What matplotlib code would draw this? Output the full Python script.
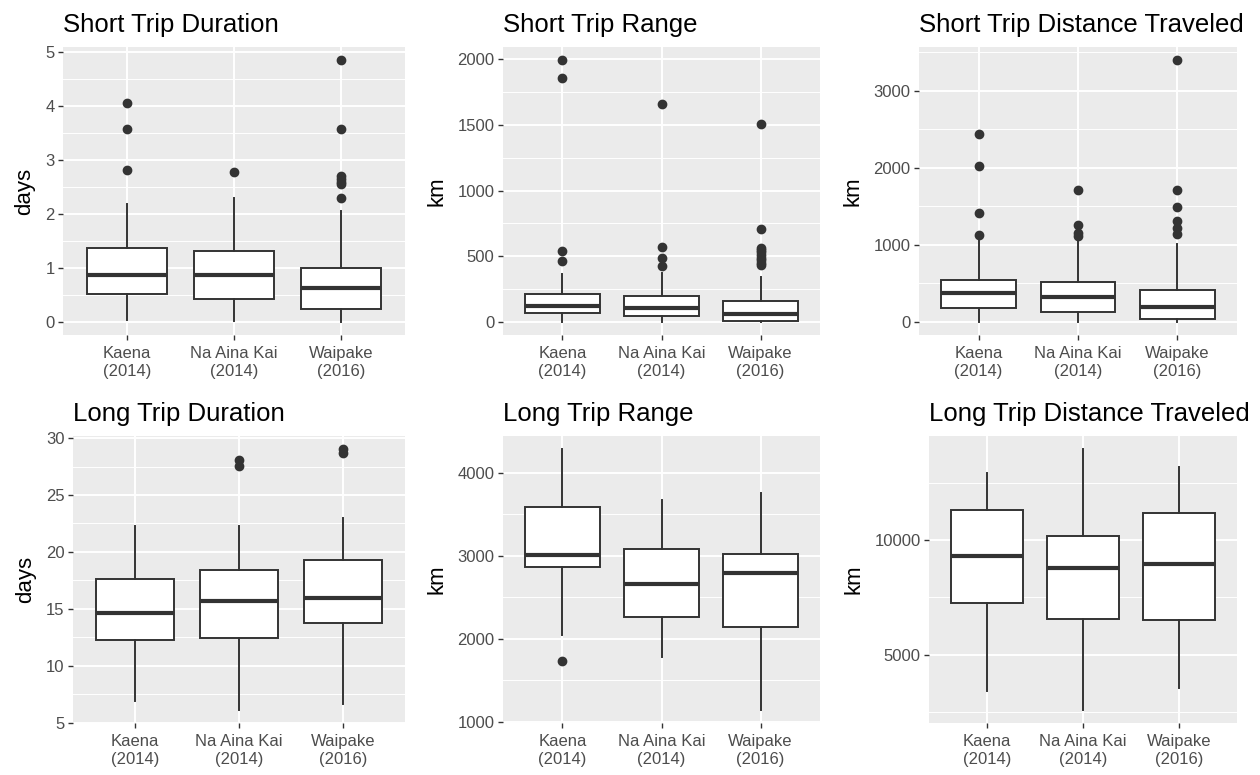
import matplotlib
matplotlib.use("Agg")
import matplotlib.pyplot as plt
from matplotlib.ticker import MultipleLocator

plt.rcParams['font.family'] = ['Liberation Sans', 'DejaVu Sans']

groups = ["Kaena\n(2014)", "Na Aina Kai\n(2014)", "Waipake\n(2016)"]

# Short trip duration (days)
sd_q1 = [0.52, 0.42, 0.24]
sd_med = [0.87, 0.87, 0.62]
sd_q3 = [1.36, 1.32, 1.00]
sd_lo = [0.04, 0.02, 0.0]
sd_hi = [2.18, 2.29, 2.05]
sd_out = [[4.05, 3.58, 2.82], [2.77], [4.85, 3.58, 2.70, 2.65, 2.60, 2.55, 2.29]]

# Short trip range (km)
sr_q1 = [68, 43, 10]
sr_med = [119, 109, 61]
sr_q3 = [213, 195, 157]
sr_lo = [0, 0, 0]
sr_hi = [367, 372, 342]
sr_out = [[1995, 1860, 537, 464], [1662, 570, 489, 428],
          [1507, 711, 563, 545, 530, 510, 490, 470, 450, 435]]

# Short trip distance traveled (km)
sx_q1 = [186, 134, 35]
sx_med = [371, 323, 199]
sx_q3 = [543, 517, 414]
sx_lo = [0, 0, 0]
sx_hi = [1060, 1090, 1005]
sx_out = [[2436, 2017, 1418, 1134], [1707, 1263, 1156, 1121],
          [3397, 1707, 1487, 1306, 1220, 1147]]

# Long trip duration (days)
ld_q1 = [12.24, 12.39, 13.79]
ld_med = [14.64, 15.72, 15.92]
ld_q3 = [17.65, 18.43, 19.28]
ld_lo = [6.9, 6.11, 6.6]
ld_hi = [22.26, 22.26, 22.96]
ld_out = [[], [28.07, 27.58], [29.04, 28.66]]

# Long trip range (km)
lr_q1 = [2868, 2264, 2140]
lr_med = [3012, 2660, 2792]
lr_q3 = [3588, 3088, 3024]
lr_lo = [2040, 1780, 1140]
lr_hi = [4288, 3668, 3752]
lr_out = [[1728], [], []]

# Long trip distance traveled (km)
lx_q1 = [7261, 6565, 6522]
lx_med = [9319, 8783, 8942]
lx_q3 = [11304, 10188, 11203]
lx_lo = [3406, 2580, 3551]
lx_hi = [12942, 13985, 13202]
lx_out = [[], [], []]

titles = ["Short Trip Duration", "Short Trip Range", "Short Trip Distance Traveled",
          "Long Trip Duration", "Long Trip Range", "Long Trip Distance Traveled"]
ylabels = ["days", "km", "km", "days", "km", "km"]
major_steps = [1, 500, 1000, 5, 1000, 5000]

panels = [
    (sd_q1, sd_med, sd_q3, sd_lo, sd_hi, sd_out),
    (sr_q1, sr_med, sr_q3, sr_lo, sr_hi, sr_out),
    (sx_q1, sx_med, sx_q3, sx_lo, sx_hi, sx_out),
    (ld_q1, ld_med, ld_q3, ld_lo, ld_hi, ld_out),
    (lr_q1, lr_med, lr_q3, lr_lo, lr_hi, lr_out),
    (lx_q1, lx_med, lx_q3, lx_lo, lx_hi, lx_out),
]

# panel rectangles in pixels: left, top, right, bottom
W, H = 1260, 775
rects = [(63, 47, 405, 335), (503, 47, 820, 335), (919, 47, 1237, 335),
         (73, 436, 405, 723), (503, 436, 820, 723), (929, 436, 1237, 723)]

fig = plt.figure(figsize=(W / 100, H / 100), dpi=100)

dark = '#333333'
for i, (q1, med, q3, lo, hi, out) in enumerate(panels):
    l, t, r, b = rects[i]
    ax = fig.add_axes([l / W, (H - b) / H, (r - l) / W, (b - t) / H])
    ax.set_facecolor('#EBEBEB')
    for s in ax.spines.values():
        s.set_visible(False)

    stats = []
    for k in range(3):
        stats.append(dict(q1=q1[k], med=med[k], q3=q3[k], whislo=lo[k],
                          whishi=hi[k], fliers=out[k]))
    ax.bxp(stats, positions=[1, 2, 3], widths=0.75, patch_artist=True,
           showcaps=False,
           boxprops=dict(facecolor='white', edgecolor=dark, linewidth=1.4),
           whiskerprops=dict(color=dark, linewidth=1.4),
           medianprops=dict(color=dark, linewidth=3.0, solid_capstyle='butt'),
           flierprops=dict(marker='o', markerfacecolor=dark, markeredgecolor=dark,
                           markersize=6),
           zorder=3)

    vals = list(lo) + list(hi) + [v for o in out for v in o]
    vmin, vmax = min(vals), max(vals)
    pad = 0.05 * (vmax - vmin)
    ax.set_ylim(vmin - pad, vmax + pad)
    ax.set_xlim(0.4, 3.6)

    ax.yaxis.set_major_locator(MultipleLocator(major_steps[i]))
    ax.yaxis.set_minor_locator(MultipleLocator(major_steps[i] / 2))
    ax.grid(which='major', color='white', linewidth=1.4, zorder=0)
    ax.grid(which='minor', axis='y', color='white', linewidth=0.7, zorder=0)
    ax.set_axisbelow(True)

    ax.set_xticks([1, 2, 3])
    ax.set_xticklabels(groups, linespacing=1.2)
    ax.tick_params(which='major', length=3.6, width=1.0, color=dark,
                   labelsize=12, labelcolor='#4D4D4D', pad=2.5)
    ax.tick_params(axis='x', pad=4.5)
    ax.tick_params(which='minor', length=0)

    ax.set_ylabel(ylabels[i], fontsize=16, color='black', labelpad=7)
    ax.set_title(titles[i], loc='left', fontsize=18.5, color='black', pad=11)

fig.savefig('out.png', dpi=100)
